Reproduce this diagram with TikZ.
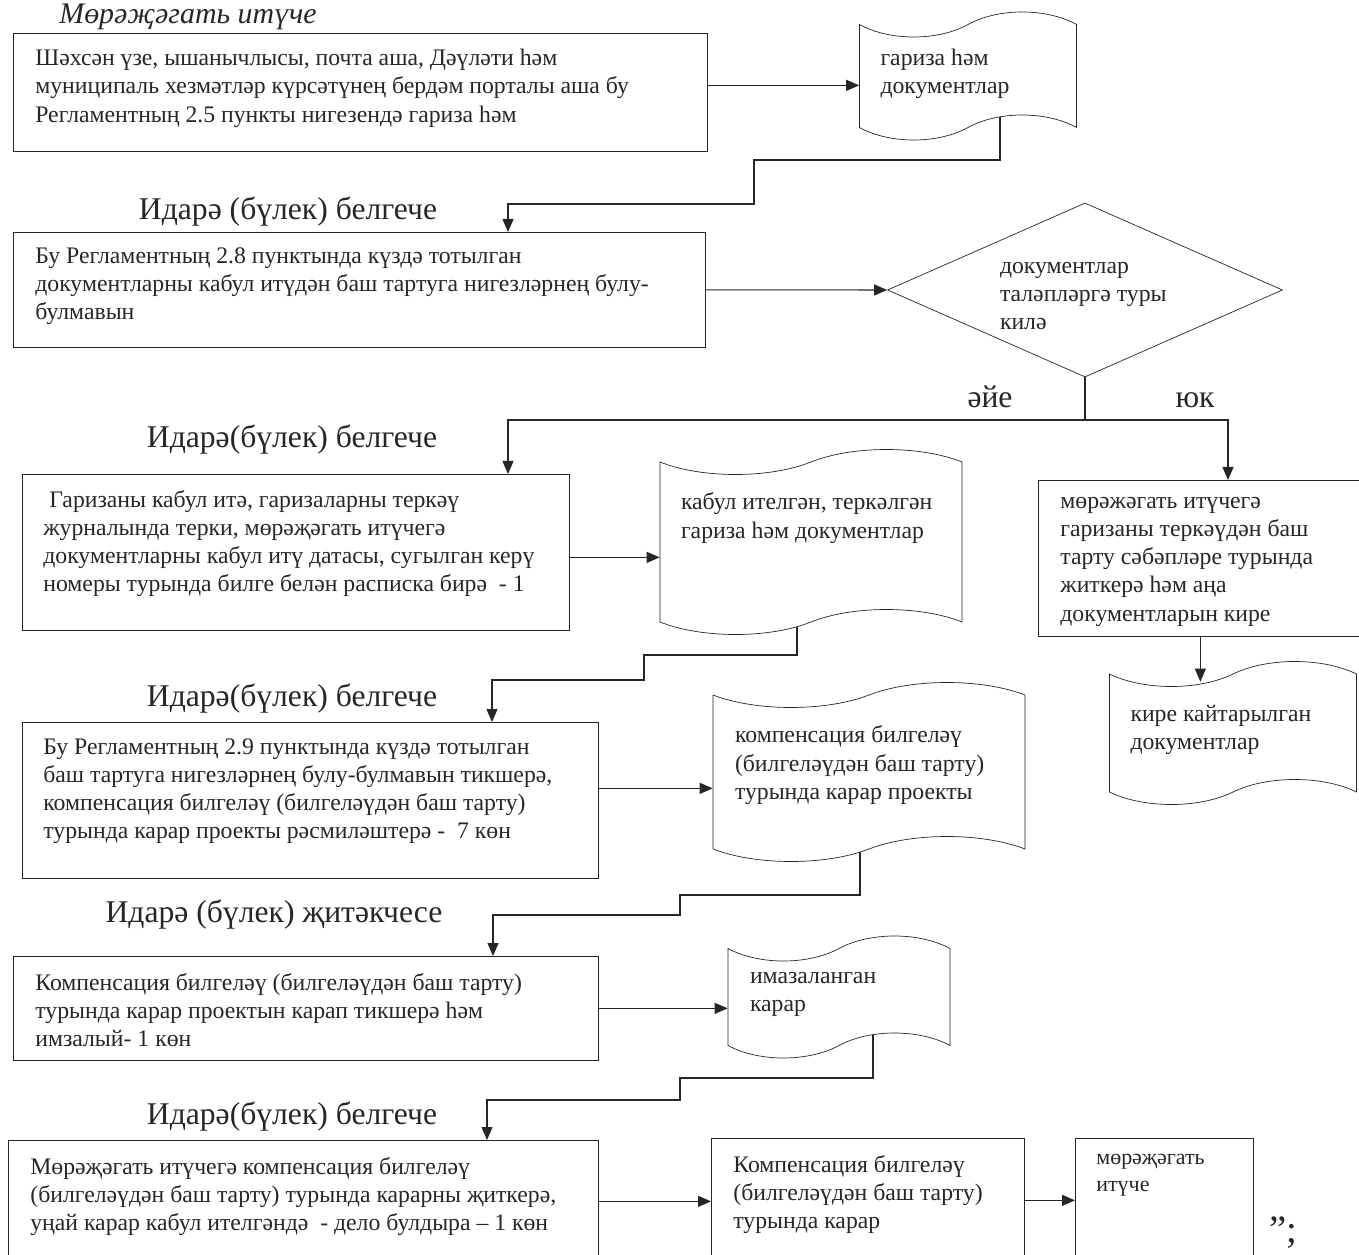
\documentclass[tikz,border=0pt]{standalone}
\usepackage{fontspec}
\setmainfont{Liberation Serif}
\usetikzlibrary{shapes.symbols,shapes.geometric,arrows.meta,backgrounds}

\newlength{\pxu}
\setlength{\pxu}{0.2mm}
\newcommand{\bodyfont}{\fontsize{13.5}{16}\selectfont}
\newcommand{\headfont}{\fontsize{18}{21}\selectfont}
% text block of given width and height (in px), set from the top
\newcommand{\intext}[3]{\parbox[c][#2\pxu][t]{#1\pxu}{\raggedright #3}}

\tikzset{
  stepbox/.style={draw=black!85, rectangle, anchor=north west, inner sep=0pt, font=\bodyfont, text=black!85},
  doc/.style={tape, draw=black!85, fill=white, inner sep=0pt, tape bend height=5mm, font=\bodyfont, text=black!85},
  head/.style={anchor=base, font=\headfont, text=black!85},
  line/.style={draw=black!85, line width=0.6pt},
  flow/.style={line, -{Triangle[length=2.6mm,width=2.2mm]}}
}

\begin{document}
\begin{tikzpicture}[x=0.2mm, y=-0.2mm]
\useasboundingbox (0,0) rectangle (1359,1255);

\node[anchor=base, font=\fontsize{17}{20}\selectfont\itshape, text=black!85] (ttl) at (188,24) {Мөрәҗәгать итүче};

% first row
\node[stepbox, minimum width=694*\pxu, minimum height=118*\pxu] (b1) at (13,33)
  {\intext{650}{86}{Шәхсән үзе, ышанычлысы, почта аша, Дәүләти һәм\\муниципаль хезмәтләр күрсәтүнең бердәм порталы аша бу\\Регламентның 2.5 пункты нигезендә гариза һәм}};
\node[doc, minimum width=217*\pxu, minimum height=128*\pxu] (doc1) at (968,76)
  {\intext{175}{54}{гариза һәм\\документлар}};

% second row
\node[head] (h1) at (288,220) {Идарә (бүлек) белгече};
\node[stepbox, minimum width=692*\pxu, minimum height=115*\pxu] (b2) at (13,232)
  {\intext{648}{85}{Бу Регламентның 2.8 пунктында күздә тотылган\\документларны кабул итүдән баш тартуга нигезләрнең булу-\\булмавын}};
\node[draw=black!85, diamond, aspect=2.27, minimum width=395*\pxu, minimum height=174*\pxu, inner sep=0pt, font=\bodyfont, text=black!85] (dia) at (1085,290)
  {\intext{170}{56}{документлар\\таләпләргә туры\\килә}};
\node[head] (yes) at (990,408) {әйе};
\node[head] (no) at (1195,408) {юк};

% third row
\node[head] (h2) at (292,447) {Идарә(бүлек) белгече};
\node[stepbox, minimum width=547*\pxu, minimum height=156*\pxu] (b3) at (22,474)
  {\intext{505}{124}{\hspace*{6\pxu}Гаризаны кабул итә, гаризаларны теркәү\\журналында терки, мөрәҗәгать итүчегә\\документларны кабул итү датасы, сугылган керү\\номеры турында билге белән расписка бирә~ - 1}};
\node[doc, minimum width=302*\pxu, minimum height=185*\pxu] (doc2) at (811,542)
  {\intext{260}{98}{кабул ителгән, теркәлгән\\гариза һәм документлар}};
\node[stepbox, minimum width=324*\pxu, minimum height=156*\pxu] (b4) at (1038,480)
  {\intext{280}{122}{мөрәжәгать итүчегә\\гаризаны теркәүдән баш\\тарту сәбәпләре турында\\житкерә һәм аңа\\документларын кире}};
\node[doc, minimum width=247*\pxu, minimum height=143*\pxu] (doc3) at (1233,733)
  {\intext{205}{56}{кире кайтарылган\\документлар}};

% fourth row
\node[head] (h3) at (292,706) {Идарә(бүлек) белгече};
\node[stepbox, minimum width=576*\pxu, minimum height=156*\pxu] (b5) at (22,722)
  {\intext{534}{124}{Бу Регламентның 2.9 пунктында күздә тотылган\\баш тартуга нигезләрнең булу-булмавын тикшерә,\\компенсация билгеләү (билгеләүдән баш тарту)\\турында карар проекты рәсмиләштерә -~ 7 көн}};
\node[doc, minimum width=312*\pxu, minimum height=179*\pxu] (doc4) at (869,772)
  {\intext{268}{92}{компенсация билгеләү\\(билгеләүдән баш тарту)\\турында карар проекты}};

% fifth row
\node[head] (h4) at (274,922) {Идарә (бүлек) җитәкчесе};
\node[stepbox, minimum width=585*\pxu, minimum height=104*\pxu] (b6) at (13,956)
  {\intext{541}{70}{Компенсация билгеләү (билгеләүдән баш тарту)\\турында карар проектын карап тикшерә һәм\\имзалый- 1 көн}};
\node[doc, minimum width=222*\pxu, minimum height=122*\pxu] (doc5) at (839,997)
  {\intext{178}{50}{имазаланган\\карар}};

% last row
\node[head] (h5) at (292,1124) {Идарә(бүлек) белгече};
\node[stepbox, minimum width=590*\pxu, minimum height=122*\pxu] (b7) at (8,1140)
  {\intext{546}{88}{Мөрәҗәгать итүчегә компенсация билгеләү\\(билгеләүдән баш тарту) турында карарны җиткерә,\\уңай карар кабул ителгәндә~ - дело булдыра – 1 көн}};
\node[stepbox, minimum width=313*\pxu, minimum height=124*\pxu] (b8) at (711,1138)
  {\intext{269}{90}{Компенсация билгеләү\\(билгеләүдән баш тарту)\\турында карар}};
\node[stepbox, minimum width=178*\pxu, minimum height=138*\pxu, font=\fontsize{12.5}{15}\selectfont] (b9) at (1075,1138)
  {\intext{136}{106}{мөрәҗәгать\\итүче}};
\node[anchor=base, font=\fontsize{22}{24}\selectfont, text=black!85] (qt) at (1283,1242) {”;};

% connectors
\coordinate (j1) at (1000,160);
\coordinate (j2) at (508,204);
\coordinate (split) at (1085,420);
\coordinate (yesx) at (508,420);
\coordinate (nox) at (1228,420);
\coordinate (j3) at (797,655);
\coordinate (j4) at (492,680);
\coordinate (j5) at (860,895);
\coordinate (j6) at (493,915);
\coordinate (j7) at (873,1078);
\coordinate (j8) at (487,1100);
\coordinate (a1) at ([yshift=1.4mm]b1.east);
\coordinate (a3) at ([yshift=-1mm]b3.east);
\coordinate (a5) at ([yshift=2.4mm]b5.east);
\begin{scope}[on background layer]
\draw[flow] (a1) -- (a1 -| doc1.west);
\draw[flow] (doc1.center -| j1) |- (754,160) |- (j2) -- (j2 |- b2.north);
\draw[flow] (b2.east) -- (dia.west);
\draw[line] (dia.south) -- (split);
\draw[flow] (split) -- (yesx) -- (yesx |- b3.north);
\draw[flow] (split) -- (nox) -- (nox |- b4.north);
\draw[flow] (a3) -- (a3 -| doc2.west);
\draw[flow] (b4.south) -- ([yshift=-1.6mm]b4.south |- doc3.north);
\draw[flow] (doc2.center -| j3) |- (644,655) |- (j4) -- (j4 |- b5.north);
\draw[flow] (a5) -- (a5 -| doc4.west);
\draw[flow] (doc4.center -| j5) |- (680,895) |- (j6) -- (j6 |- b6.north);
\draw[flow] (b6.east) -- (b6.east -| doc5.west);
\draw[flow] (doc5.center -| j7) |- (680,1078) |- (j8) -- (j8 |- b7.north);
\draw[flow] (b7.east) -- (b7.east -| b8.west);
\draw[flow] (b8.east) -- (b8.east -| b9.west);
\end{scope}
\end{tikzpicture}
\end{document}
